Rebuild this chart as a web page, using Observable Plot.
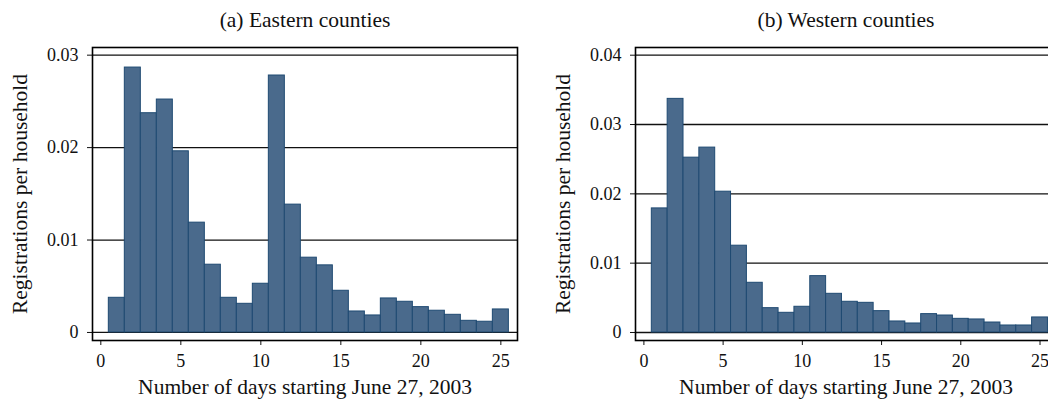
<!DOCTYPE html>
<html>
<head>
<meta charset="utf-8">
<script src="https://cdn.jsdelivr.net/npm/d3@7"></script>
<script src="https://cdn.jsdelivr.net/npm/@observablehq/plot@0.6"></script>
<style>
  html, body { margin: 0; padding: 0; background: #fff; }
  #wrap { position: relative; width: 1048px; height: 400px; overflow: hidden; }
  #left, #right { position: absolute; top: 0; }
  #left { left: 0; width: 524px; }
  #right { left: 524px; width: 539px; }
  svg { font-family: "Liberation Serif", "Times New Roman", serif; max-width: none !important; }
</style>
</head>
<body>
<div id="wrap"><div id="left"></div><div id="right"></div></div>
<script>
const days = d3.range(1, 26);
const eastValues = [0.00375, 0.02866, 0.02372, 0.0252, 0.0196, 0.01188, 0.00733, 0.00375, 0.0031, 0.00527,
  0.0278, 0.01383, 0.00809, 0.00726, 0.00451, 0.00227, 0.00184, 0.00368, 0.00332, 0.00274,
  0.00235, 0.00191, 0.00126, 0.00116, 0.00249];
const westValues = [0.0179, 0.0337, 0.02522, 0.02667, 0.02031, 0.01252, 0.00717, 0.00351, 0.00284, 0.00371,
  0.00813, 0.00558, 0.00443, 0.00428, 0.00308, 0.00159, 0.0013, 0.00265, 0.00245, 0.00197,
  0.00188, 0.00144, 0.00101, 0.00101, 0.00217];
const xTicks = [0, 5, 10, 15, 20, 25];
const eastYTicks = [0, 0.01, 0.02, 0.03];
const westYTicks = [0, 0.01, 0.02, 0.03, 0.04];
const titles = ["(a) Eastern counties", "(b) Western counties"];
const xLabel = "Number of days starting June 27, 2003";
const yLabel = "Registrations per household";

const FILL = "#4a6a8c";
const STROKE = "#1f4a72";
const LABEL_SIZE = 21.5;

function panel({values, yTicks, yDomain, title, width, marginLeft, xDomain}) {
  const data = days.map((d, i) => ({day: d, v: values[i]}));
  return Plot.plot({
    width,
    height: 400,
    marginLeft,
    marginRight: 7,
    marginTop: 47,
    marginBottom: 60,
    style: {fontFamily: "Liberation Serif, Times New Roman, serif", fontSize: "18px", color: "#111", background: "#fff", maxWidth: "none"},
    x: {domain: xDomain, ticks: xTicks, tickFormat: d => String(d), tickSize: 5, tickPadding: 9, label: null},
    y: {domain: yDomain, ticks: yTicks, tickFormat: d => String(d), tickSize: 5, tickPadding: 9, label: null},
    marks: [
      Plot.ruleY(yTicks, {stroke: "#111", strokeWidth: 1.3}),
      Plot.rect(data, {x1: d => d.day - 0.5, x2: d => d.day + 0.5, y1: () => 0, y2: "v", fill: FILL, stroke: STROKE, strokeWidth: 1}),
      Plot.frame({stroke: "#000", strokeWidth: 1.6}),
      Plot.text([title], {frameAnchor: "top", textAnchor: "middle", lineAnchor: "middle", dy: -27, fontSize: LABEL_SIZE, fill: "#111"}),
      Plot.text([xLabel], {frameAnchor: "bottom", textAnchor: "middle", lineAnchor: "middle", dy: 47, fontSize: LABEL_SIZE, fill: "#111"}),
      Plot.text([yLabel], {frameAnchor: "left", textAnchor: "middle", lineAnchor: "middle", dx: -72, rotate: -90, fontSize: LABEL_SIZE, fill: "#111"})
    ]
  });
}

document.getElementById("left").appendChild(panel({
  values: eastValues, yTicks: eastYTicks, yDomain: [-0.00087, 0.03083], title: titles[0],
  width: 524, marginLeft: 92, xDomain: [-0.52, 26.04]
}));
document.getElementById("right").appendChild(panel({
  values: westValues, yTicks: westYTicks, yDomain: [-0.001155, 0.04111], title: titles[1],
  width: 539, marginLeft: 111, xDomain: [-0.53, 26.04]
}));
</script>
</body>
</html>
